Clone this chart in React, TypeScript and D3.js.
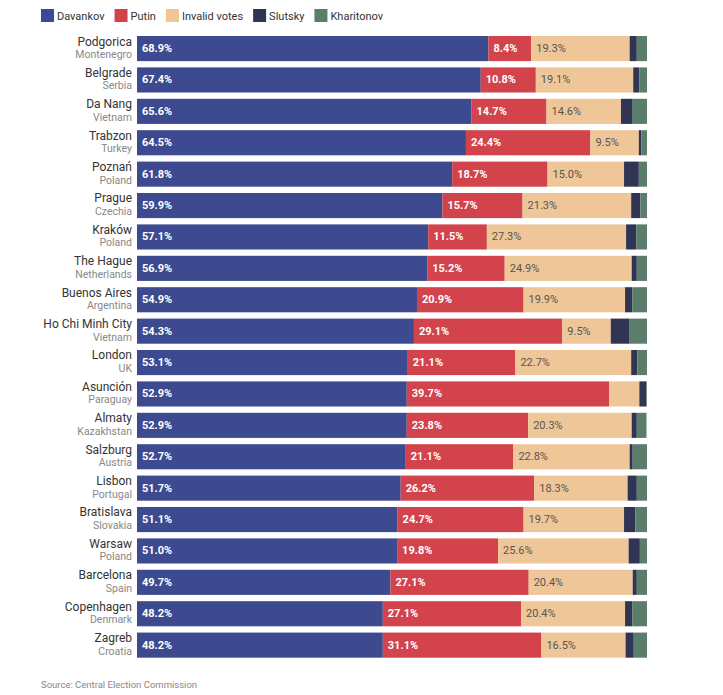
import React, { useEffect, useRef } from "react";
import * as d3 from "d3";

const cities = ["Podgorica", "Belgrade", "Da Nang", "Trabzon", "Poznań", "Prague", "Kraków", "The Hague", "Buenos Aires", "Ho Chi Minh City", "London", "Asunción", "Almaty", "Salzburg", "Lisbon", "Bratislava", "Warsaw", "Barcelona", "Copenhagen", "Zagreb"];
const countries = ["Montenegro", "Serbia", "Vietnam", "Turkey", "Poland", "Czechia", "Poland", "Netherlands", "Argentina", "Vietnam", "UK", "Paraguay", "Kazakhstan", "Austria", "Portugal", "Slovakia", "Poland", "Spain", "Denmark", "Croatia"];
const davankov = [68.9, 67.4, 65.6, 64.5, 61.8, 59.9, 57.1, 56.9, 54.9, 54.3, 53.1, 52.9, 52.9, 52.7, 51.7, 51.1, 51.0, 49.7, 48.2, 48.2];
const putin = [8.4, 10.8, 14.7, 24.4, 18.7, 15.7, 11.5, 15.2, 20.9, 29.1, 21.1, 39.7, 23.8, 21.1, 26.2, 24.7, 19.8, 27.1, 27.1, 31.1];
const invalid = [19.3, 19.1, 14.6, 9.5, 15.0, 21.3, 27.3, 24.9, 19.9, 9.5, 22.7, 5.9, 20.3, 22.8, 18.3, 19.7, 25.6, 20.4, 20.4, 16.5];
const slutsky = [1.4, 1.2, 2.3, 0.5, 2.9, 1.8, 2.0, 1.0, 1.4, 3.7, 1.2, 1.4, 1.0, 0.6, 1.8, 2.2, 2.2, 0.8, 1.4, 1.6];
const kharitonov = [2.0, 1.5, 2.8, 1.1, 1.6, 1.3, 2.1, 2.0, 2.9, 3.4, 1.9, 0.1, 1.9, 2.8, 2.0, 2.3, 1.4, 2.0, 2.9, 2.6];

const seriesNames = ["Davankov", "Putin", "Invalid votes", "Slutsky", "Kharitonov"];
const seriesKeys = ["davankov", "putin", "invalid", "slutsky", "kharitonov"];
const seriesColors = ["#3e4a8f", "#d2434b", "#efc697", "#2f3552", "#5a7e6b"];
const labelColors = ["#ffffff", "#ffffff", "#555555", null, null];
const sourceText = "Source: Central Election Commission";

const FONT = "Roboto, 'Noto Sans', sans-serif";

export default function App() {
  const ref = useRef<SVGSVGElement | null>(null);

  useEffect(() => {
    const svg = d3.select(ref.current);
    svg.selectAll("*").remove();

    const rows = cities.map((c, i) => ({
      city: c,
      country: countries[i],
      davankov: davankov[i],
      putin: putin[i],
      invalid: invalid[i],
      slutsky: slutsky[i],
      kharitonov: kharitonov[i],
    }));

    const x = d3.scaleLinear().domain([0, 100]).range([137, 647]);
    const y = d3.scaleBand<string>().domain(cities).range([36, 657.7]).paddingInner(0.2).paddingOuter(0);

    const stack = d3.stack<any>().keys(seriesKeys);
    const stacked = stack(rows);

    // Legend
    const legend = svg.append("g");
    let lx = 41;
    seriesNames.forEach((name, i) => {
      legend.append("rect").attr("x", lx).attr("y", 9).attr("width", 13).attr("height", 13).attr("fill", seriesColors[i]);
      const t = legend.append("text").attr("x", lx + 16).attr("y", 19.5)
        .attr("font-family", FONT).attr("font-size", 11).attr("fill", "#333").text(name);
      const w = (t.node() as SVGTextElement).getComputedTextLength();
      lx += 16 + w + 10;
    });

    // Bars
    stacked.forEach((s, si) => {
      const g = svg.append("g");
      g.selectAll("rect").data(s).join("rect")
        .attr("x", (d) => x(d[0]))
        .attr("y", (d: any) => y(d.data.city)!)
        .attr("width", (d) => Math.max(0, x(d[1]) - x(d[0])))
        .attr("height", y.bandwidth())
        .attr("fill", seriesColors[si]);
      const lc = labelColors[si];
      if (lc) {
        g.selectAll("text").data(s.filter((d) => d[1] - d[0] >= 7)).join("text")
          .attr("x", (d) => x(d[0]) + 5)
          .attr("y", (d: any) => y(d.data.city)! + y.bandwidth() / 2 + 3.5)
          .attr("font-family", FONT)
          .attr("font-size", 11)
          .attr("font-weight", si < 2 ? 700 : 400)
          .attr("fill", lc)
          .text((d) => `${(d[1] - d[0]).toFixed(1)}%`);
      }
    });

    // Category labels
    const lab = svg.append("g").attr("font-family", FONT).attr("text-anchor", "end");
    lab.selectAll("text.city").data(rows).join("text").attr("class", "city")
      .attr("x", 132).attr("y", (d) => y(d.city)! + 9.5)
      .attr("font-size", 12).attr("fill", "#333").text((d) => d.city);
    lab.selectAll("text.country").data(rows).join("text").attr("class", "country")
      .attr("x", 132).attr("y", (d) => y(d.city)! + 22)
      .attr("font-size", 10.5).attr("fill", "#888").text((d) => d.country);

    svg.append("text").attr("x", 41).attr("y", 688)
      .attr("font-family", FONT).attr("font-size", 9.5).attr("fill", "#888").text(sourceText);
  }, []);

  return (
    <svg ref={ref} width={723} height={695}
      style={{ position: "absolute", left: 0, top: 0, background: "#fff", display: "block" }} />
  );
}
